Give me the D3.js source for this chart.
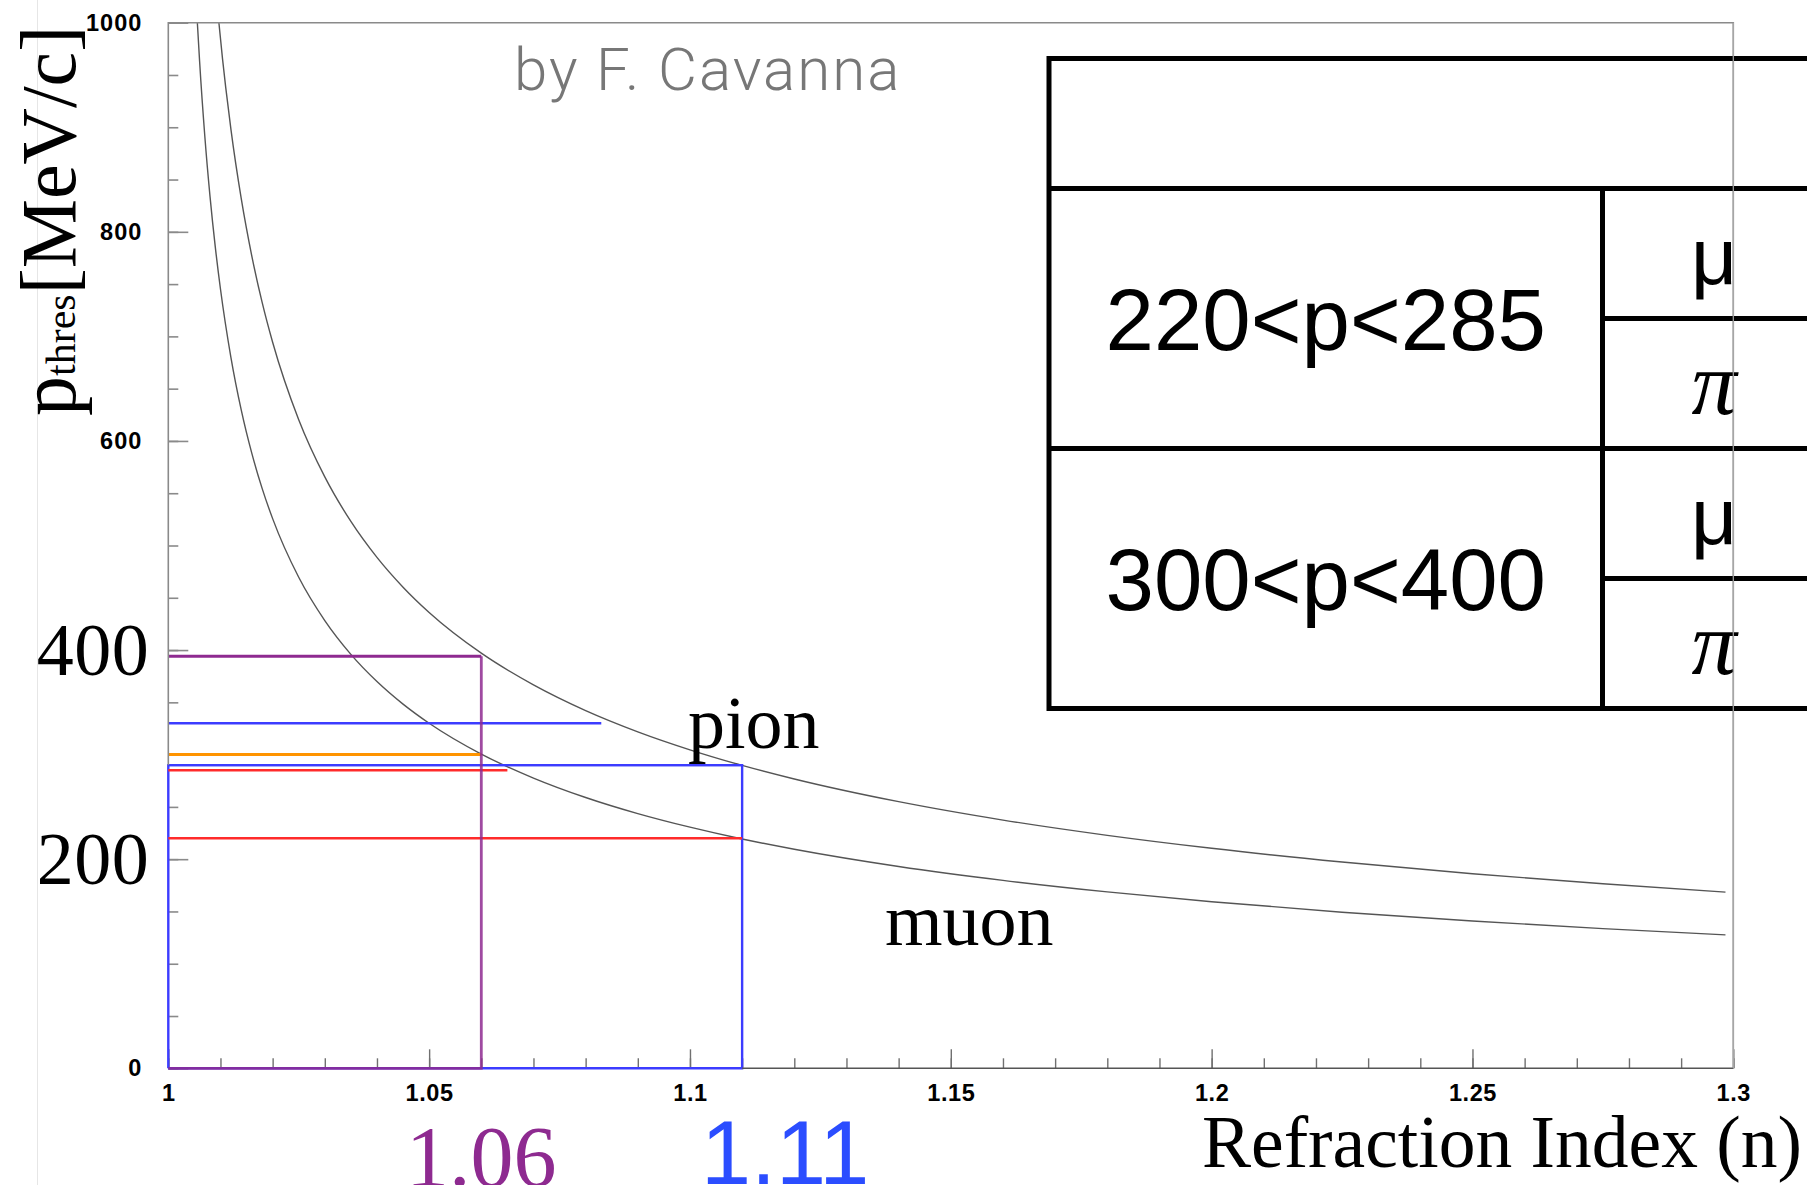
<!DOCTYPE html>
<html>
<head>
<meta charset="utf-8">
<script src="https://cdn.jsdelivr.net/npm/d3@7"></script>
<style>
  html, body { margin: 0; padding: 0; background: #fff; }
  svg { display: block; }
</style>
</head>
<body>
<svg id="chart" width="1807" height="1185"></svg>
<script>
// Cherenkov threshold momentum vs. refraction index, muon and pion
const muonIndex    = [1.00557, 1.006, 1.007, 1.008, 1.009, 1.010, 1.012, 1.014, 1.016, 1.018, 1.020, 1.025, 1.030, 1.035, 1.040, 1.045, 1.050, 1.060, 1.070, 1.080, 1.090, 1.100, 1.110, 1.120, 1.140, 1.160, 1.180, 1.200, 1.225, 1.250, 1.275, 1.2985];
const muonMomentum = [1000, 963.1, 891.4, 833.7, 785.8, 745.3, 680.0, 629.2, 588.3, 554.4, 525.7, 469.6, 428.2, 395.9, 369.9, 348.3, 330.0, 300.5, 277.6, 259.0, 243.6, 230.6, 219.3, 209.5, 193.0, 179.7, 168.7, 159.3, 149.3, 140.9, 133.6, 127.6];
const pionIndex    = [1.0097, 1.0104, 1.011, 1.012, 1.014, 1.016, 1.018, 1.020, 1.025, 1.030, 1.035, 1.040, 1.045, 1.050, 1.060, 1.070, 1.080, 1.090, 1.100, 1.110, 1.120, 1.140, 1.160, 1.180, 1.200, 1.225, 1.250, 1.275, 1.2985];
const pionMomentum = [1000, 965.2, 938.4, 898.2, 831.2, 777.1, 732.3, 694.4, 620.3, 565.6, 523.0, 488.6, 460.1, 435.9, 397.0, 366.7, 342.1, 321.8, 304.6, 289.7, 276.7, 255.0, 237.4, 222.8, 210.4, 197.3, 186.1, 176.5, 168.5];

const xTickValues = [1, 1.05, 1.1, 1.15, 1.2, 1.25, 1.3];
const xTickLabels = ["1", "1.05", "1.1", "1.15", "1.2", "1.25", "1.3"];
const yTickValues = [0, 200, 400, 600, 800, 1000];
const yTickLabels = ["0", "200", "400", "600", "800", "1000"];

// momentum levels (MeV/c) and the refraction index where each level stops
const levelMomenta   = [394, 330, 300, 290, 285, 220];
const levelIndexEnds = [1.06, 1.083, 1.06, 1.11, 1.065, 1.11];

// chosen radiator indices
const chosenIndices = [1.06, 1.11];
const chosenLabels  = ["1.06", "1.11"];

// table contents
const rangeLabels    = ["220<p<285", "300<p<400"];
const particleLabels = ["μ", "π"];

const curveNames = ["pion", "muon"];

// ---------------------------------------------------------------------------
const svg = d3.select("#chart");
const W = 1807, H = 1185;
const pLeft = 168.3, pRight = 1733.3, pTop = 22.7, pBottom = 1068.3;

const x = d3.scaleLinear().domain([1, 1.3]).range([pLeft, pRight]);
const y = d3.scaleLinear().domain([0, 1000]).range([pBottom, pTop]);

const serif = "'Liberation Serif','DejaVu Serif',serif";
const sans = "'Liberation Sans',Arial,sans-serif";

svg.append("rect").attr("width", W).attr("height", H).attr("fill", "#fff");

// faint edge of the relabelled y-axis strip
svg.append("line")
  .attr("x1", 37.5).attr("x2", 37.5).attr("y1", 0).attr("y2", H)
  .attr("stroke", "#e6e6e6").attr("stroke-width", 1);

// minor ticks
const tickColor = "#707070";
svg.append("g")
  .attr("transform", `translate(0,${pBottom})`)
  .call(d3.axisBottom(x).tickValues(d3.range(100, 131).map(d => d / 100)).tickSize(-10).tickFormat(""))
  .call(g => g.select(".domain").remove())
  .call(g => g.selectAll("line").attr("stroke", tickColor).attr("stroke-width", 1.4));
svg.append("g")
  .attr("transform", `translate(${pLeft},0)`)
  .call(d3.axisLeft(y).tickValues(d3.range(0, 1001, 50)).tickSize(-10).tickFormat(""))
  .call(g => g.select(".domain").remove())
  .call(g => g.selectAll("line").attr("stroke", "#8a8a8a").attr("stroke-width", 1.6));

// major ticks and labels
const xAxis = svg.append("g")
  .attr("transform", `translate(0,${pBottom})`)
  .call(d3.axisBottom(x).tickValues(xTickValues).tickSize(-19).tickPadding(16)
        .tickFormat((d, i) => xTickLabels[i]))
  .call(g => g.select(".domain").remove());
xAxis.selectAll("line").attr("stroke", tickColor).attr("stroke-width", 1.4);
xAxis.selectAll("text")
  .attr("font-family", sans).attr("font-weight", "bold").attr("font-size", 23.5)
  .attr("letter-spacing", "0.6px").attr("fill", "#000");

const yAxis = svg.append("g")
  .attr("transform", `translate(${pLeft},0)`)
  .call(d3.axisLeft(y).tickValues(yTickValues).tickSize(-20).tickPadding(26)
        .tickFormat((d, i) => yTickLabels[i]))
  .call(g => g.select(".domain").remove());
yAxis.selectAll("line").attr("stroke", "#8a8a8a").attr("stroke-width", 1.6);
yAxis.selectAll("text")
  .attr("font-family", sans).attr("font-weight", "bold").attr("font-size", 23.5)
  .attr("letter-spacing", "1px").attr("fill", "#000");
// the 200 and 400 values are set large in serif
yAxis.selectAll(".tick")
  .filter(d => d === 200 || d === 400)
  .select("text")
  .attr("x", -19)
  .attr("dy", "0.33em")
  .attr("font-family", serif).attr("font-weight", "normal").attr("font-size", 74)
  .attr("letter-spacing", "0.5px");

// threshold curves
const line = d3.line().x(d => x(d[0])).y(d => y(d[1])).curve(d3.curveMonotoneX);
const curves = [
  d3.zip(pionIndex, pionMomentum),
  d3.zip(muonIndex, muonMomentum)
];
svg.append("g").selectAll("path").data(curves).join("path")
  .attr("d", line)
  .attr("fill", "none").attr("stroke", "#555").attr("stroke-width", 1.4);

// chosen-index boxes
const purple = "#8e2a90", blue = "#3c3cff", orange = "#ff9400", red = "#ff2b2b";
const levelColors = [purple, blue, orange, blue, red, red];

svg.append("path")
  .attr("d", d3.line()([[x(1), y(0)], [x(1), y(levelMomenta[3])], [x(chosenIndices[1]), y(levelMomenta[3])], [x(chosenIndices[1]), y(0)], [x(1), y(0)]]))
  .attr("fill", "none").attr("stroke", blue).attr("stroke-width", 2.4);

svg.append("g").selectAll("line").data(levelMomenta).join("line")
  .attr("x1", x(1))
  .attr("x2", (d, i) => x(levelIndexEnds[i]))
  .attr("y1", d => y(d)).attr("y2", d => y(d))
  .attr("stroke", (d, i) => levelColors[i])
  .attr("stroke-width", (d, i) => (i === 0 || i === 2) ? 3 : 2.4);

svg.append("path")
  .attr("d", d3.line()([[x(1), y(0)], [x(chosenIndices[0]), y(0)], [x(chosenIndices[0]), y(levelMomenta[0])]]))
  .attr("fill", "none").attr("stroke", purple).attr("stroke-width", 2.8)
  .attr("stroke-opacity", 0.85);

// frame
svg.append("path")
  .attr("d", `M${pLeft},${y(levelMomenta[3])}V${pTop}H${pRight}V${pBottom}`)
  .attr("fill", "none").attr("stroke", "#8a8a8a").attr("stroke-width", 1.6);
svg.append("line")
  .attr("x1", x(chosenIndices[1])).attr("x2", pRight)
  .attr("y1", pBottom).attr("y2", pBottom)
  .attr("stroke", "#555").attr("stroke-width", 1.6);

// curve names
const nameSpots = [[688, 748], [885, 945]];
svg.append("g").selectAll("text").data(curveNames).join("text")
  .attr("x", (d, i) => nameSpots[i][0]).attr("y", (d, i) => nameSpots[i][1])
  .attr("font-family", serif).attr("font-size", 74).attr("fill", "#000")
  .text(d => d);

// credit
svg.append("text")
  .attr("x", 514).attr("y", 90)
  .attr("font-family", "Roboto,'Open Sans',sans-serif").attr("font-weight", 300)
  .attr("font-size", 60).attr("letter-spacing", "2px").attr("fill", "#777")
  .text("by F. Cavanna");

// axis titles
svg.append("text")
  .attr("x", 1202).attr("y", 1167)
  .attr("font-family", serif).attr("font-size", 73.5).attr("fill", "#000")
  .text("Refraction Index (n)");

const yTitle = svg.append("text")
  .attr("transform", "translate(75,416) rotate(-90)")
  .attr("font-family", serif).attr("fill", "#000");
yTitle.append("tspan").attr("font-size", 80).text("p");
yTitle.append("tspan").attr("font-size", 42).text("thres");
yTitle.append("tspan").attr("font-size", 78).text("[MeV/c]");

// chosen index labels under the axis
svg.append("text")
  .attr("x", x(chosenIndices[0])).attr("y", 1186)
  .attr("text-anchor", "middle")
  .attr("font-family", serif).attr("font-size", 86).attr("fill", purple)
  .text(chosenLabels[0]);
svg.append("text")
  .attr("x", x(chosenIndices[1]) + 43).attr("y", 1184)
  .attr("text-anchor", "middle")
  .attr("font-family", sans).attr("font-size", 90).attr("fill", "#2b4dff")
  .text(chosenLabels[1]);

// table
const tLeft = 1049, tRight = 1830, tMid = 1602.5;
const tTop = 58.5, rowH = 260, headH = 130;
const table = svg.append("g").attr("stroke", "#000").attr("stroke-width", 5).attr("fill", "none");
table.append("path").attr("d", `M${tRight},${tTop}H${tLeft}V${tTop + headH + 2 * rowH}H${tRight}`);
[0, 1].forEach(r => {
  const y0 = tTop + headH + r * rowH;
  table.append("line").attr("x1", tLeft).attr("x2", tRight).attr("y1", y0).attr("y2", y0);
  table.append("line").attr("x1", tMid).attr("x2", tRight).attr("y1", y0 + rowH / 2).attr("y2", y0 + rowH / 2);
});
table.append("line").attr("x1", tMid).attr("x2", tMid)
  .attr("y1", tTop + headH).attr("y2", tTop + headH + 2 * rowH);

const cells = svg.append("g");
rangeLabels.forEach((lab, r) => {
  const yc = tTop + headH + r * rowH + rowH / 2;
  cells.append("text")
    .attr("x", (tLeft + tMid) / 2).attr("y", yc + 31)
    .attr("text-anchor", "middle")
    .attr("font-family", sans).attr("font-size", 87).attr("fill", "#000")
    .text(lab);
  particleLabels.forEach((p, k) => {
    const yk = tTop + headH + r * rowH + k * rowH / 2 + rowH / 4;
    cells.append("text")
      .attr("x", 1714).attr("y", yk + 30)
      .attr("text-anchor", "middle")
      .attr("font-family", k === 0 ? sans : serif)
      .attr("font-style", k === 0 ? "normal" : "italic")
      .attr("font-size", k === 0 ? 80 : 90)
      .attr("fill", "#000")
      .text(p);
  });
});

// plot edge seen through the table
svg.append("line")
  .attr("x1", pRight).attr("x2", pRight).attr("y1", pTop).attr("y2", pBottom)
  .attr("stroke", "#aaa").attr("stroke-width", 1.2);
</script>
</body>
</html>
